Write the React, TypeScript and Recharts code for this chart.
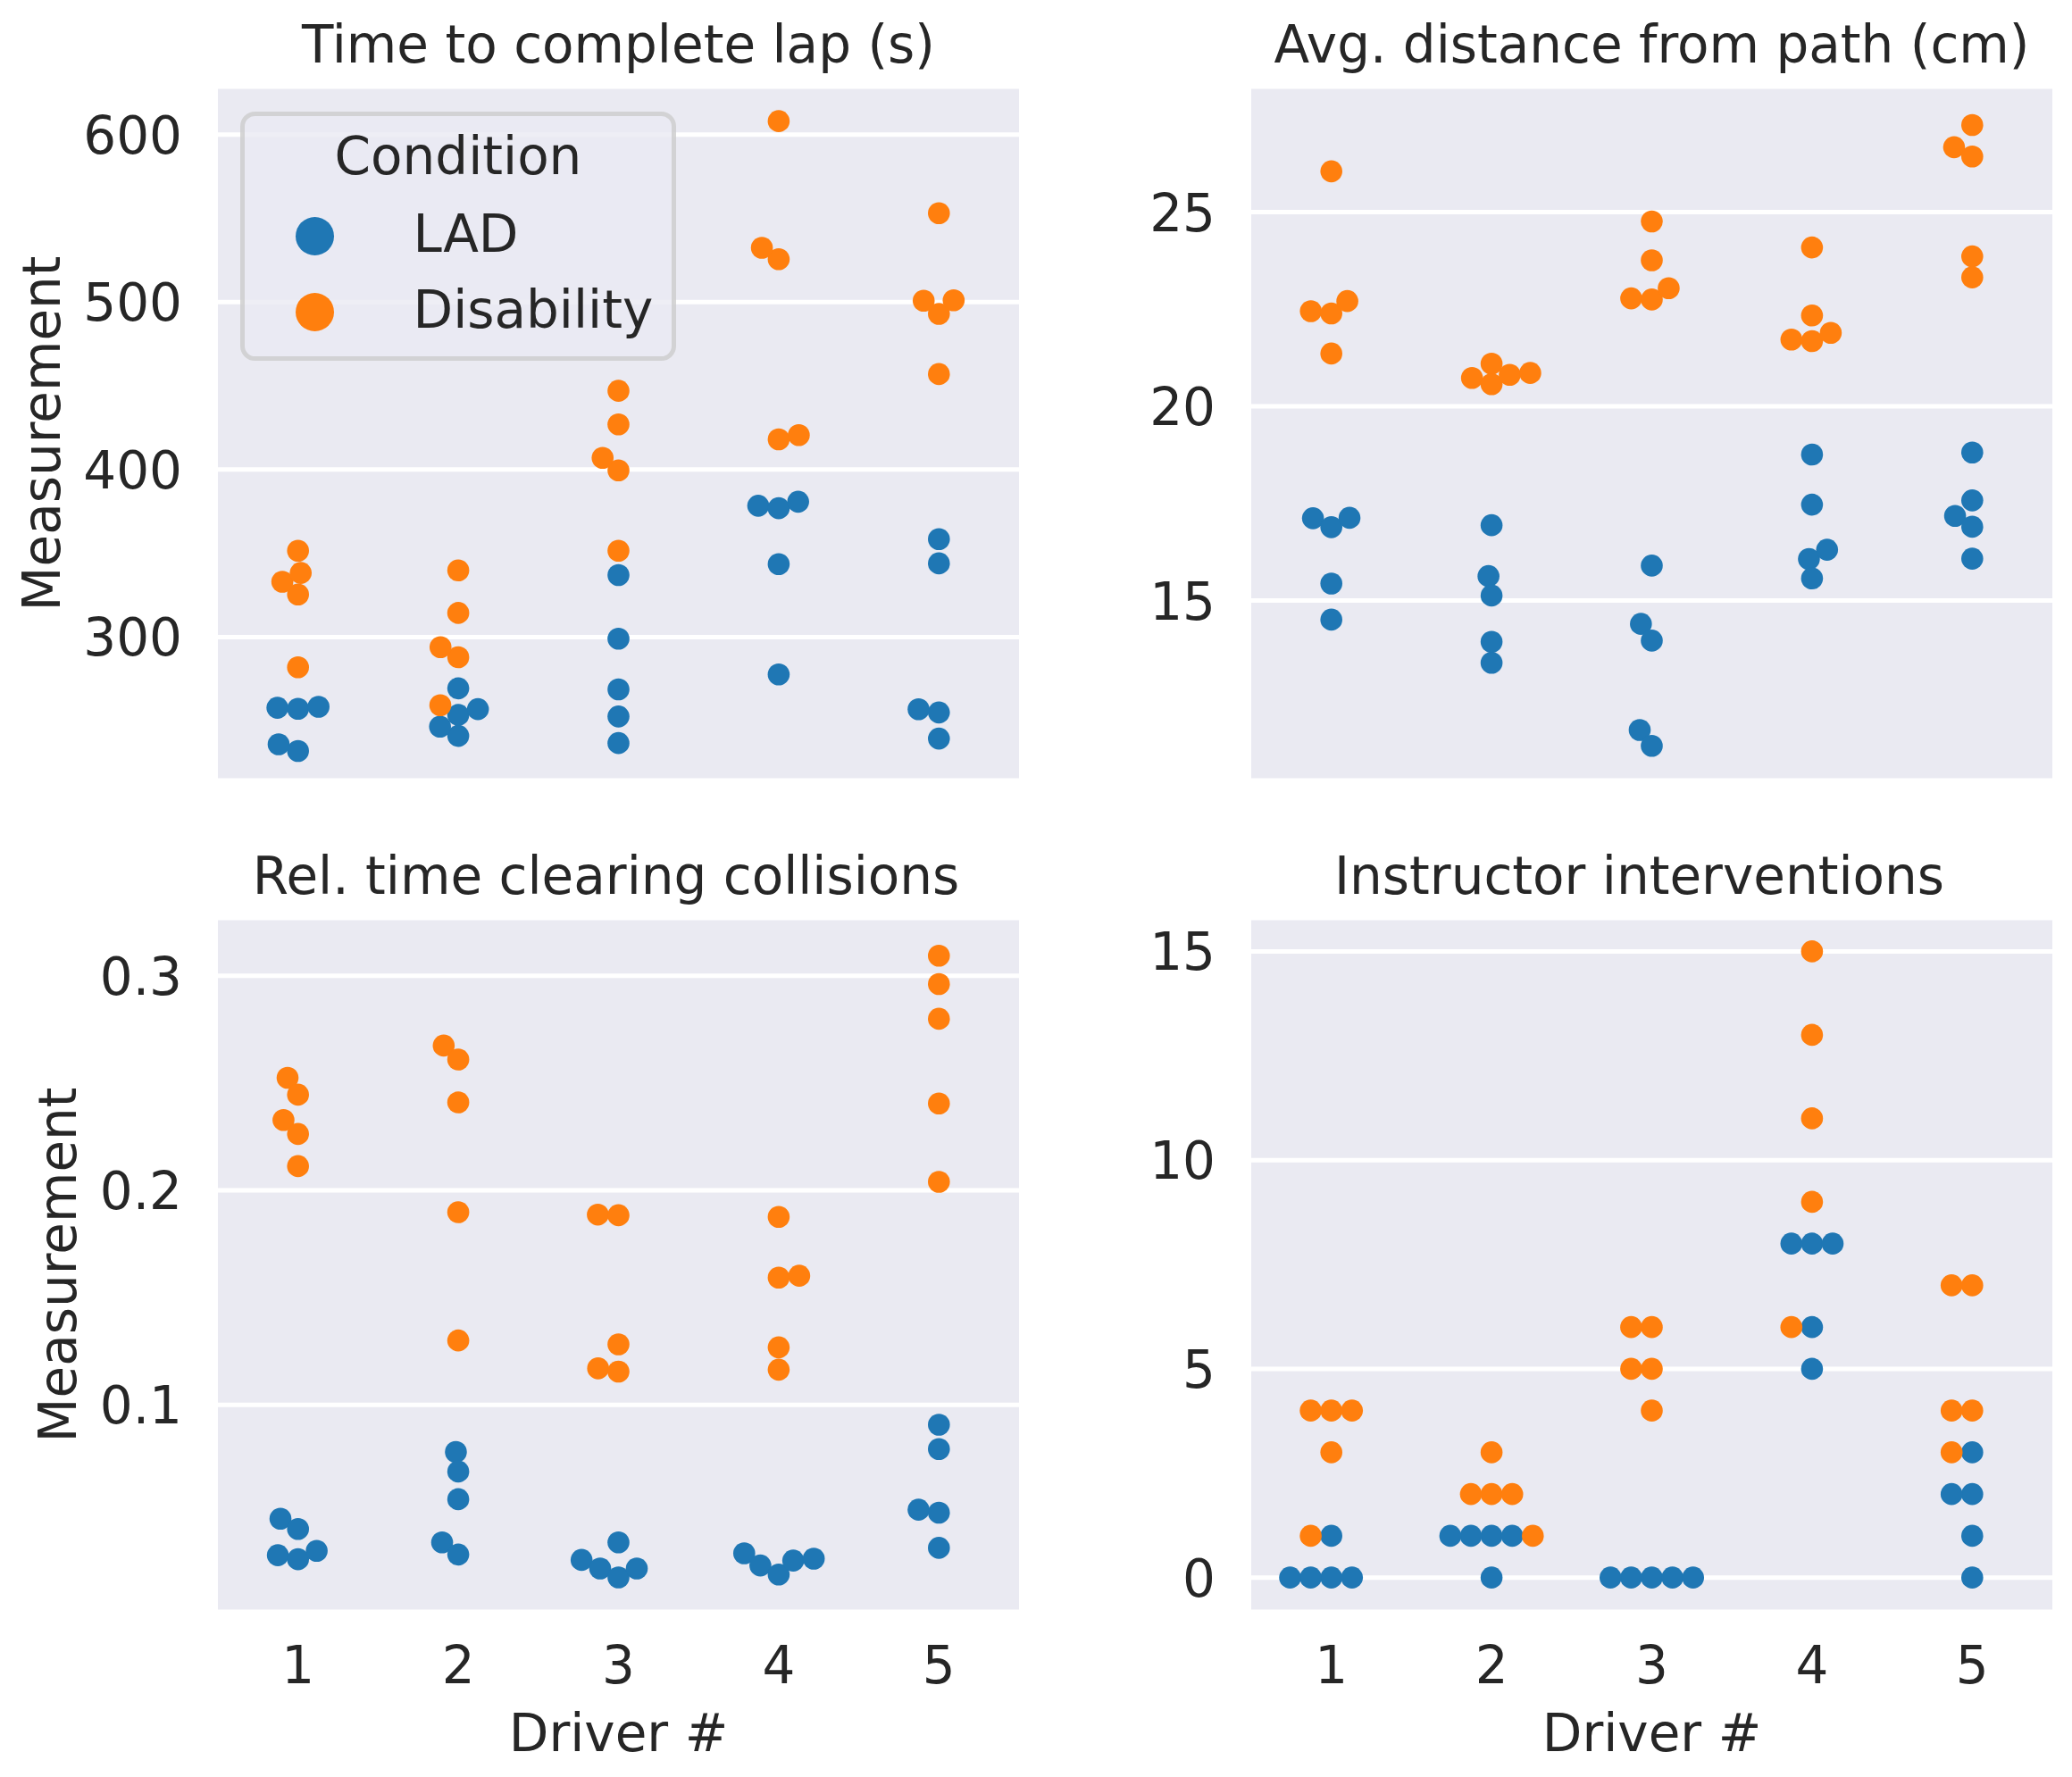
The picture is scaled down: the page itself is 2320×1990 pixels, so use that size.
import React from 'react';
import { ScatterChart, Scatter, XAxis, YAxis, CartesianGrid, Legend } from 'recharts';

// ---------------- data ----------------
const drivers = [1, 2, 3, 4, 5];
const seriesNames = ['LAD', 'Disability'];
const seriesColors = ['#1f77b4', '#ff7f0e'];
const legendTitle = 'Condition';

const panelTitles = [
  'Time to complete lap (s)',
  'Avg. distance from path (cm)',
  'Rel. time clearing collisions',
  'Instructor interventions',
];
const yLabel = 'Measurement';
const xLabel = 'Driver #';

// Time to complete lap (s), one row per driver
const lapLAD = [
  [232, 236, 257.2, 257.8, 258.4],
  [241, 246.5, 253.5, 257, 269.4],
  [236.7, 252.6, 268.8, 299, 337],
  [277.7, 343.5, 378.4, 376.9, 380.8],
  [239.4, 255, 256.9, 344, 358.5],
];
const lapDis = [
  [282, 325.4, 333, 338.3, 351.5],
  [259.3, 288, 294, 314.4, 339.8],
  [351.5, 399.5, 407, 427, 447],
  [418, 420.6, 525.6, 532.4, 608],
  [457, 492.9, 500.8, 501.1, 553],
];
const lapTicks = [300, 400, 500, 600];
const lapDomain = [214.4, 628.6];
// swarm tie-breaks that fell to the right in the original: [driver, series, index]
const lapRightTies = [[4, 1, 1]];

// Avg. distance from path (cm)
const distLAD = [
  [17.12, 16.89, 17.13, 15.44, 14.51],
  [16.94, 15.63, 15.13, 13.94, 13.4],
  [15.9, 14.4, 13.97, 11.67, 11.26],
  [18.76, 17.47, 16.07, 16.31, 15.57],
  [18.81, 17.58, 17.18, 16.9, 16.08],
];
const distDis = [
  [26.05, 22.45, 22.39, 22.71, 21.36],
  [20.73, 21.1, 20.57, 20.81, 20.86],
  [24.76, 23.76, 22.78, 22.75, 23.04],
  [24.09, 22.34, 21.72, 21.68, 21.89],
  [27.24, 26.67, 26.43, 23.86, 23.32],
];
const distTicks = [15, 20, 25];
const distDomain = [10.37, 28.23];
const distRightTies: number[][] = [];

// Rel. time clearing collisions
const clearLAD = [
  [0.0469, 0.0421, 0.0299, 0.028, 0.0319],
  [0.078, 0.0689, 0.056, 0.0359, 0.0302],
  [0.0359, 0.0277, 0.0237, 0.0195, 0.0237],
  [0.0308, 0.0251, 0.0209, 0.0274, 0.0283],
  [0.0907, 0.0794, 0.0511, 0.0497, 0.0333],
];
const clearDis = [
  [0.2525, 0.2446, 0.2328, 0.2263, 0.2113],
  [0.2675, 0.261, 0.241, 0.1898, 0.13],
  [0.1887, 0.1884, 0.1282, 0.117, 0.1155],
  [0.1876, 0.1593, 0.1602, 0.1268, 0.1164],
  [0.3094, 0.2962, 0.28, 0.2405, 0.204],
];
const clearTicks = [0.1, 0.2, 0.3];
const clearDomain = [0.0035, 0.327];
const clearRightTies = [[4, 1, 2]];

// Instructor interventions
const intLAD = [
  [0, 0, 0, 0, 1],
  [1, 1, 1, 1, 0],
  [0, 0, 0, 0, 0],
  [5, 6, 8, 8, 8],
  [0, 1, 2, 2, 3],
];
const intDis = [
  [1, 3, 4, 4, 4],
  [1, 2, 2, 2, 3],
  [4, 5, 5, 6, 6],
  [6, 9, 11, 13, 15],
  [3, 4, 4, 7, 7],
];
const intTicks = [0, 5, 10, 15];
const intDomain = [-0.82, 15.8];
const intRightTies: number[][] = [];

// ---------------- style / layout ----------------
const FONT = 'DejaVu Sans';
const TEXT = '#262626';
const FS = 58;
const AX_BG = '#EAEAF2';
const PLOT_W = 897;
const PLOT_H = 777;
const R_SWARM = 11;
const R_DOT = 12.3;
const Y_AXIS_W = 200;
const X_AXIS_H = 100;

// seaborn-like beeswarm (pixel space, ascending value order)
function beeswarm(ys: number[], r: number, preferRight: boolean[]): number[] {
  const order = ys.map((_, i) => i).sort((a, b) => ys[a] - ys[b]);
  const placed: { x: number; y: number }[] = [];
  const out: number[] = new Array(ys.length).fill(0);
  order.forEach((idx, k) => {
    const y = ys[idx];
    if (k === 0) {
      placed.push({ x: 0, y });
      out[idx] = 0;
      return;
    }
    const neigh: { x: number; y: number }[] = [];
    for (let j = placed.length - 1; j >= 0; j--) {
      if (y - placed[j].y < 2 * r) neigh.push(placed[j]);
      else break;
    }
    neigh.reverse();
    const cands: number[] = [0];
    let leftFirst = true;
    for (const p of neigh) {
      const dy = y - p.y;
      const dx = Math.sqrt(Math.max(4 * r * r - dy * dy, 0)) * 1.05;
      const cl = p.x - dx;
      const cr = p.x + dx;
      if (leftFirst) cands.push(cl, cr);
      else cands.push(cr, cl);
      leftFirst = !leftFirst;
    }
    const pr = preferRight[idx];
    const sorted = cands
      .map((c, i) => ({ c, i }))
      .sort((a, b) => {
        const d = Math.abs(a.c) - Math.abs(b.c);
        if (Math.abs(d) > 1e-9) return d;
        if (pr && a.c !== b.c) return b.c - a.c;
        return a.i - b.i;
      })
      .map((o) => o.c);
    let chosen = sorted[0];
    if (neigh.length) {
      for (const c of sorted) {
        const ok = neigh.every((p) => (p.x - c) ** 2 + (p.y - y) ** 2 >= 4 * r * r);
        if (ok) {
          chosen = c;
          break;
        }
      }
    }
    placed.push({ x: chosen, y });
    out[idx] = chosen;
  });
  return out;
}

function buildSeries(lad: number[][], dis: number[][], domain: number[], rightTies: number[][]) {
  const pxPerUnit = PLOT_H / (domain[1] - domain[0]);
  const band = PLOT_W / drivers.length;
  const a: { x: number; y: number }[] = [];
  const b: { x: number; y: number }[] = [];
  drivers.forEach((d, i) => {
    const vals = [...lad[i], ...dis[i]];
    const pref = vals.map((_, k) => {
      const s = k < lad[i].length ? 0 : 1;
      const j = s === 0 ? k : k - lad[i].length;
      return rightTies.some((t) => t[0] === d && t[1] === s && t[2] === j);
    });
    const offs = beeswarm(vals.map((v) => v * pxPerUnit), R_SWARM, pref);
    vals.forEach((v, k) => {
      const pt = { x: d + offs[k] / band, y: v };
      if (k < lad[i].length) a.push(pt);
      else b.push(pt);
    });
  });
  return [a, b];
}

const makeDot = (color: string) => (props: any) => (
  <circle cx={props.cx} cy={props.cy} r={R_DOT} fill={color} />
);

const LegendBox = () => (
  <svg width={490} height={282} style={{ display: 'block', overflow: 'visible' }}>
    <rect
      x={2.5}
      y={2.5}
      width={483}
      height={274}
      rx={14}
      ry={14}
      fill={AX_BG}
      fillOpacity={0.8}
      stroke="#CCCCCC"
      strokeOpacity={0.8}
      strokeWidth={5}
    />
    <text x={244} y={69.5} textAnchor="middle" fontFamily={FONT} fontSize={FS} fill={TEXT}>
      {legendTitle}
    </text>
    {seriesNames.map((n, i) => (
      <g key={n}>
        <circle cx={83.5} cy={139.5 + i * 85} r={21.5} fill={seriesColors[i]} />
        <text x={193.5} y={157 + i * 84.5} fontFamily={FONT} fontSize={FS} fill={TEXT}>
          {n}
        </text>
      </g>
    ))}
  </svg>
);

type Box = { top: number; right: number; bottom: number; left: number };
type PanelProps = {
  left: number;
  top: number;
  plot: Box; // plot-area margins inside the 1160x995 chart
  lad: number[][];
  dis: number[][];
  domain: number[];
  ticks: number[];
  rightTies: number[][];
  showX: boolean;
  showLegend?: boolean;
};

function Panel({ left, top, plot, lad, dis, domain, ticks, rightTies, showX, showLegend }: PanelProps) {
  const [a, b] = buildSeries(lad, dis, domain, rightTies);
  const plotLeft = plot.left;
  const plotBottom = 995 - plot.bottom;
  const margin = {
    top: plot.top,
    right: plot.right,
    left: plot.left - Y_AXIS_W,
    bottom: showX ? plot.bottom - X_AXIS_H : plot.bottom,
  };
  const yTick = (props: any) => (
    <text
      x={plotLeft - 40}
      y={props.y}
      dy={21}
      textAnchor="end"
      fontFamily={FONT}
      fontSize={FS}
      fill={TEXT}
    >
      {String(props.payload.value)}
    </text>
  );
  const xTick = (props: any) => (
    <text x={props.x} y={plotBottom + 80} textAnchor="middle" fontFamily={FONT} fontSize={FS} fill={TEXT}>
      {String(props.payload.value)}
    </text>
  );
  return (
    <div style={{ position: 'absolute', left, top, width: 1160, height: 995 }}>
      <ScatterChart width={1160} height={995} margin={margin}>
        <CartesianGrid vertical={false} horizontal stroke="#FFFFFF" strokeWidth={5} fill={AX_BG} />
        <XAxis
          type="number"
          dataKey="x"
          domain={[0.5, 5.5]}
          ticks={drivers}
          allowDataOverflow
          hide={!showX}
          height={X_AXIS_H}
          axisLine={false}
          tickLine={false}
          tick={xTick}
          interval={0}
        />
        <YAxis
          type="number"
          dataKey="y"
          domain={domain}
          ticks={ticks}
          allowDataOverflow
          width={Y_AXIS_W}
          axisLine={false}
          tickLine={false}
          tick={yTick}
          interval={0}
        />
        <Scatter name={seriesNames[0]} data={a} fill={seriesColors[0]} shape={makeDot(seriesColors[0])} isAnimationActive={false} />
        <Scatter name={seriesNames[1]} data={b} fill={seriesColors[1]} shape={makeDot(seriesColors[1])} isAnimationActive={false} />
        {showLegend ? (
          <Legend
            layout="horizontal"
            verticalAlign="middle"
            align="center"
            wrapperStyle={{ left: 268.5, top: 124.5, width: 490, height: 282 }}
            content={() => <LegendBox />}
          />
        ) : null}
      </ScatterChart>
    </div>
  );
}

const topPlotL = { top: 97, right: 19, bottom: 121, left: 244 };
const topPlotR = { top: 97, right: 22, bottom: 121, left: 241 };
const botPlotL = { top: 33, right: 19, bottom: 185, left: 244 };
const botPlotR = { top: 33, right: 22, bottom: 185, left: 241 };

export default function App() {
  const cxL = 244 + PLOT_W / 2;
  const cxR = 1401 + PLOT_W / 2;
  return (
    <div
      style={{
        position: 'absolute',
        left: 0,
        top: 0,
        width: 2320,
        height: 1990,
        background: '#FFFFFF',
        overflow: 'hidden',
      }}
    >
      <Panel left={0} top={0} plot={topPlotL} lad={lapLAD} dis={lapDis} domain={lapDomain} ticks={lapTicks} rightTies={lapRightTies} showX={false} showLegend />
      <Panel left={1160} top={0} plot={topPlotR} lad={distLAD} dis={distDis} domain={distDomain} ticks={distTicks} rightTies={distRightTies} showX={false} />
      <Panel left={0} top={995} plot={botPlotL} lad={clearLAD} dis={clearDis} domain={clearDomain} ticks={clearTicks} rightTies={clearRightTies} showX />
      <Panel left={1160} top={995} plot={botPlotR} lad={intLAD} dis={intDis} domain={intDomain} ticks={intTicks} rightTies={intRightTies} showX />
      <svg
        width={2320}
        height={1990}
        style={{ position: 'absolute', left: 0, top: 0, pointerEvents: 'none' }}
      >
        <g fontFamily={FONT} fontSize={FS} fill={TEXT}>
          <text x={cxL} y={69.5} textAnchor="middle">{panelTitles[0]}</text>
          <text x={cxR} y={69.5} textAnchor="middle">{panelTitles[1]}</text>
          <text x={cxL - 14} y={1000.5} textAnchor="middle">{panelTitles[2]}</text>
          <text x={cxR - 14} y={1000.5} textAnchor="middle">{panelTitles[3]}</text>
          <text x={cxL} y={1961} textAnchor="middle">{xLabel}</text>
          <text x={cxR} y={1961} textAnchor="middle">{xLabel}</text>
          <text transform="translate(67 485.5) rotate(-90)" textAnchor="middle">{yLabel}</text>
          <text transform="translate(85.4 1416.5) rotate(-90)" textAnchor="middle">{yLabel}</text>
        </g>
      </svg>
    </div>
  );
}
